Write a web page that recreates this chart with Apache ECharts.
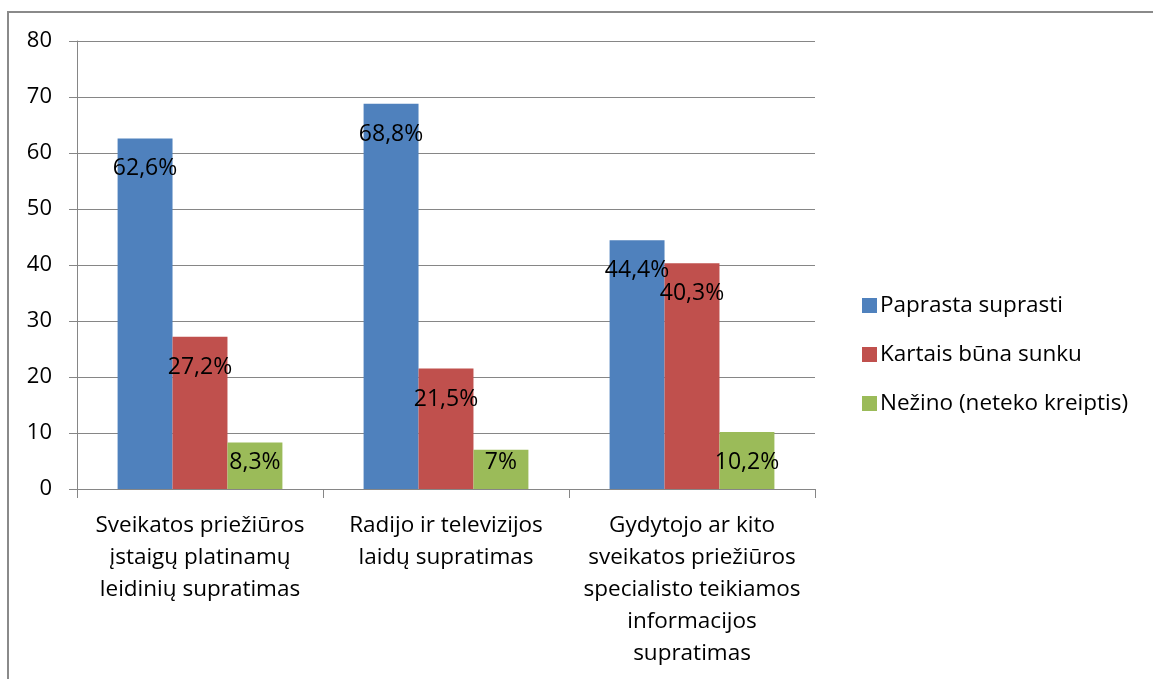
<!DOCTYPE html>
<html>
<head>
<meta charset="utf-8">
<script src="https://cdn.jsdelivr.net/npm/echarts@6/dist/echarts.min.js"></script>
<style>
html,body{margin:0;padding:0;background:#fff;}
#chart{width:1153px;height:679px;}
</style>
</head>
<body>
<div id="chart"></div>
<script>
const categories = [
  "Sveikatos priežiūros\nįstaigų platinamų\nleidinių supratimas",
  "Radijo ir televizijos\nlaidų supratimas",
  "Gydytojo ar kito\nsveikatos priežiūros\nspecialisto teikiamos\ninformacijos\nsupratimas"
];
const seriesNames = ["Paprasta suprasti", "Kartais būna sunku", "Nežino (neteko kreiptis)"];
const paprasta = [62.6, 68.8, 44.4];
const kartais = [27.2, 21.5, 40.3];
const nezino = [8.3, 7, 10.2];
const colors = ["#4F81BD", "#C0504D", "#9BBB59"];
const yTicks = [0, 10, 20, 30, 40, 50, 60, 70, 80];

const FONT = "Open Sans";
const values = [paprasta, kartais, nezino];
const GRID_H = 448;
const Y_MAX = yTicks[yTicks.length-1];

function fmt(v){ return String(v).replace('.', ',') + '%'; }
// keep label inside short bars, like the original (label stays above the base)
function labelDist(v){
  const h = v * GRID_H / Y_MAX;
  return Math.max(0, Math.min(19, h - 38));
}

const chart = echarts.init(document.getElementById('chart'), null, {renderer:'canvas'});
chart.setOption({
  animation:false,
  backgroundColor:'#fff',
  textStyle:{fontFamily:FONT},
  graphic:[{
    type:'rect', shape:{x:8, y:12, width:1200, height:700},
    style:{fill:'none', stroke:'#8a8a8a', lineWidth:2}, silent:true, z:-1
  }],
  grid:{left:77, top:41, width:738, height:GRID_H, containLabel:false},
  legend:{
    orient:'vertical', left:857, top:289,
    itemWidth:15, itemHeight:15, itemGap:26,
    icon:'rect',
    textStyle:{fontFamily:FONT, fontSize:22.5, lineHeight:22, color:'#000', padding:[0,0,0,-2]},
    data:seriesNames
  },
  xAxis:{
    type:'category', data:categories,
    axisLine:{lineStyle:{color:'#868686', width:1}},
    axisTick:{show:true, length:9, alignWithLabel:false, lineStyle:{color:'#868686'}},
    axisLabel:{fontFamily:FONT, fontSize:22.5, color:'#000', lineHeight:32, margin:21, interval:0}
  },
  yAxis:{
    type:'value', min:yTicks[0], max:Y_MAX, interval:10,
    axisLine:{show:true, lineStyle:{color:'#868686'}},
    axisTick:{show:true, length:8, lineStyle:{color:'#868686'}},
    splitLine:{lineStyle:{color:'#868686', width:1}},
    axisLabel:{fontFamily:FONT, fontSize:22, color:'#000', margin:25}
  },
  series: seriesNames.map((name,i)=>({
    name, type:'bar',
    data: values[i].map(v=>({value:v, label:{distance:labelDist(v)}})),
    itemStyle:{color:colors[i]},
    barGap:'0%', barCategoryGap:'33%',
    label:{show:true, position:'insideTop', fontFamily:FONT, fontSize:23, color:'#000',
      formatter:p=>fmt(p.value)}
  }))
});
</script>
</body>
</html>
